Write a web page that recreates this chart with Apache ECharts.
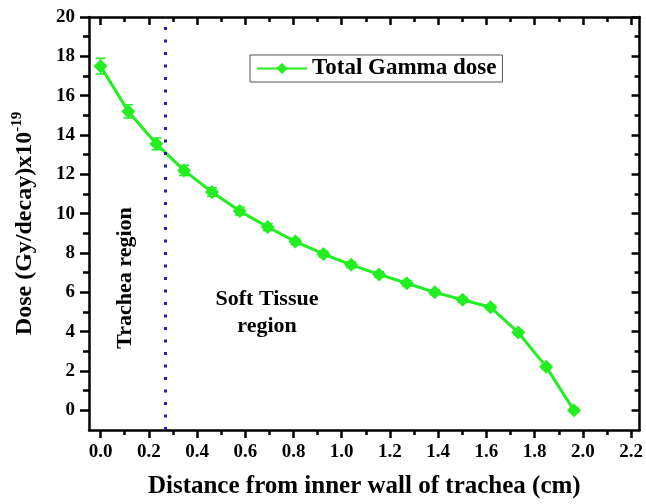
<!DOCTYPE html>
<html>
<head>
<meta charset="utf-8">
<script src="https://cdn.jsdelivr.net/npm/echarts@6/dist/echarts.min.js"></script>
<style>html,body{margin:0;padding:0;background:#fff;}#chart{width:646px;height:504px;}</style>
</head>
<body>
<div id="chart"></div>
<script>
// Data
const distance = [0, 0.115, 0.231, 0.346, 0.462, 0.577, 0.693, 0.808, 0.924, 1.039, 1.155, 1.270, 1.386, 1.501, 1.617, 1.732, 1.848, 1.963];
const dose = [17.5, 15.2, 13.55, 12.2, 11.1, 10.13, 9.32, 8.58, 7.95, 7.4, 6.91, 6.46, 6.0, 5.62, 5.24, 3.96, 2.21, 0.0];
const doseErr = [0.4, 0.34, 0.3, 0.26, 0.22, 0.2, 0.18, 0.16, 0.15, 0.15, 0.14, 0.14, 0.13, 0.13, 0.12, 0.12, 0.1, 0.1];
const boundaryX = 0.271;
const xMajorTicks = [0, 0.2, 0.4, 0.6, 0.8, 1.0, 1.2, 1.4, 1.6, 1.8, 2.0, 2.2];
const xMinorTicks = [0.1, 0.3, 0.5, 0.7, 0.9, 1.1, 1.3, 1.5, 1.7, 1.9, 2.1];
const yMajorTicks = [0, 2, 4, 6, 8, 10, 12, 14, 16, 18, 20];
const yMinorTicks = [1, 3, 5, 7, 9, 11, 13, 15, 17, 19];
const seriesName = 'Total Gamma dose';
const xTitle = 'Distance from inner wall of trachea (cm)';

const FONT = '"Liberation Serif", "Times New Roman", serif';
const GREEN = '#22ee22';
const X_MIN = -0.048, X_MAX = 2.235, Y_MIN = -1, Y_MAX = 20;

function xAx(opts) {
  return Object.assign({
    type: 'value', min: X_MIN, max: X_MAX, splitLine: {show: false},
    axisLine: {show: false, onZero: false, lineStyle: {color: '#000', width: 2.5}},
    axisLabel: {show: false}
  }, opts);
}
function yAx(opts) {
  return Object.assign({
    type: 'value', min: Y_MIN, max: Y_MAX, splitLine: {show: false},
    axisLine: {show: false, onZero: false, lineStyle: {color: '#000', width: 2.5}},
    axisLabel: {show: false}
  }, opts);
}

const chart = echarts.init(document.getElementById('chart'), null, {renderer: 'canvas'});
chart.setOption({
  animation: false,
  backgroundColor: '#fff',
  grid: {left: 89, top: 17, right: 1, bottom: 71, containLabel: false},
  legend: {
    data: [seriesName],
    left: 250, top: 55,
    padding: [2, 6, 2, 6],
    borderColor: '#555', borderWidth: 1,
    itemWidth: 50, itemHeight: 14, itemGap: 6,
    textStyle: {fontFamily: FONT, fontWeight: 'bold', fontSize: 23, color: '#000'}
  },
  xAxis: [
    xAx({
      position: 'bottom',
      name: xTitle, nameLocation: 'middle', nameGap: 44,
      nameTextStyle: {fontFamily: FONT, fontWeight: 'bold', fontSize: 25, color: '#000'},
      axisLine: {show: true, onZero: false, lineStyle: {color: '#000', width: 2.5}},
      axisTick: {show: true, inside: false, length: 8, customValues: xMajorTicks, lineStyle: {color: '#000', width: 2.5}},
      axisLabel: {show: true, margin: 13, customValues: xMajorTicks, formatter: v => v.toFixed(1),
        fontFamily: FONT, fontWeight: 'bold', fontSize: 19, color: '#000'}
    }),
    xAx({
      position: 'bottom',
      axisTick: {show: true, inside: false, length: 5, customValues: xMinorTicks, lineStyle: {color: '#000', width: 2.5}}
    }),
    xAx({
      position: 'top',
      axisLine: {show: true, onZero: false, lineStyle: {color: '#000', width: 2.5}},
      axisTick: {show: true, inside: true, length: 8, customValues: xMajorTicks, lineStyle: {color: '#000', width: 2.5}}
    }),
    xAx({
      position: 'top',
      axisTick: {show: true, inside: true, length: 5, customValues: xMinorTicks, lineStyle: {color: '#000', width: 2.5}}
    })
  ],
  yAxis: [
    yAx({
      position: 'left',
      name: '{n|Dose (Gy/decay)x10}{s|-19}', nameLocation: 'middle', nameGap: 50,
      nameTextStyle: {
        fontFamily: FONT, fontWeight: 'bold', fontSize: 24, color: '#000',
        rich: {
          n: {fontFamily: FONT, fontWeight: 'bold', fontSize: 24, color: '#000'},
          s: {fontFamily: FONT, fontWeight: 'bold', fontSize: 15, color: '#000', padding: [0, 0, 14, 0]}
        }
      },
      axisLine: {show: true, onZero: false, lineStyle: {color: '#000', width: 2.5}},
      axisTick: {show: true, inside: false, length: 9, customValues: yMajorTicks, lineStyle: {color: '#000', width: 2.5}},
      axisLabel: {show: true, margin: 14, customValues: yMajorTicks,
        fontFamily: FONT, fontWeight: 'bold', fontSize: 19, color: '#000'}
    }),
    yAx({
      position: 'left',
      axisTick: {show: true, inside: false, length: 6, customValues: yMinorTicks, lineStyle: {color: '#000', width: 2.5}}
    }),
    yAx({
      position: 'right',
      axisLine: {show: true, onZero: false, lineStyle: {color: '#000', width: 2.5}},
      axisTick: {show: true, inside: true, length: 8, customValues: yMajorTicks, lineStyle: {color: '#000', width: 2.5}}
    }),
    yAx({
      position: 'right',
      axisTick: {show: true, inside: true, length: 5, customValues: yMinorTicks, lineStyle: {color: '#000', width: 2.5}}
    })
  ],
  graphic: [
    {type: 'text', x: 125, y: 278, rotation: Math.PI / 2,
      style: {text: 'Trachea region', fontFamily: FONT, fontWeight: 'bold', fontSize: 22, fill: '#000',
        align: 'center', verticalAlign: 'middle'}},
    {type: 'text', x: 267, y: 299,
      style: {text: 'Soft Tissue', fontFamily: FONT, fontWeight: 'bold', fontSize: 22, fill: '#000',
        align: 'center', verticalAlign: 'middle'}},
    {type: 'text', x: 267, y: 326,
      style: {text: 'region', fontFamily: FONT, fontWeight: 'bold', fontSize: 22, fill: '#000',
        align: 'center', verticalAlign: 'middle'}}
  ],
  series: [
    {
      type: 'custom', name: 'err', xAxisIndex: 0, yAxisIndex: 0, silent: true, z: 2,
      data: distance.map((x, i) => [x, dose[i], doseErr[i]]),
      renderItem: function (params, api) {
        const x = api.value(0), y = api.value(1), e = api.value(2);
        const top = api.coord([x, y + e]), bot = api.coord([x, y - e]);
        const hw = 5;
        const st = {stroke: GREEN, lineWidth: 1.5};
        return {type: 'group', children: [
          {type: 'line', shape: {x1: top[0], y1: top[1], x2: bot[0], y2: bot[1]}, style: st},
          {type: 'line', shape: {x1: top[0] - hw, y1: top[1], x2: top[0] + hw, y2: top[1]}, style: st},
          {type: 'line', shape: {x1: bot[0] - hw, y1: bot[1], x2: bot[0] + hw, y2: bot[1]}, style: st}
        ]};
      }
    },
    {
      type: 'line', name: seriesName, xAxisIndex: 0, yAxisIndex: 0, z: 3,
      data: distance.map((x, i) => [x, dose[i]]),
      symbol: 'diamond', symbolSize: 14,
      lineStyle: {color: GREEN, width: 3},
      itemStyle: {color: GREEN},
      markLine: {
        silent: true, symbol: ['none', 'none'], label: {show: false},
        lineStyle: {color: '#22229a', width: 3, type: [3, 9.5]},
        data: [{xAxis: boundaryX}]
      }
    }
  ]
});
</script>
</body>
</html>
